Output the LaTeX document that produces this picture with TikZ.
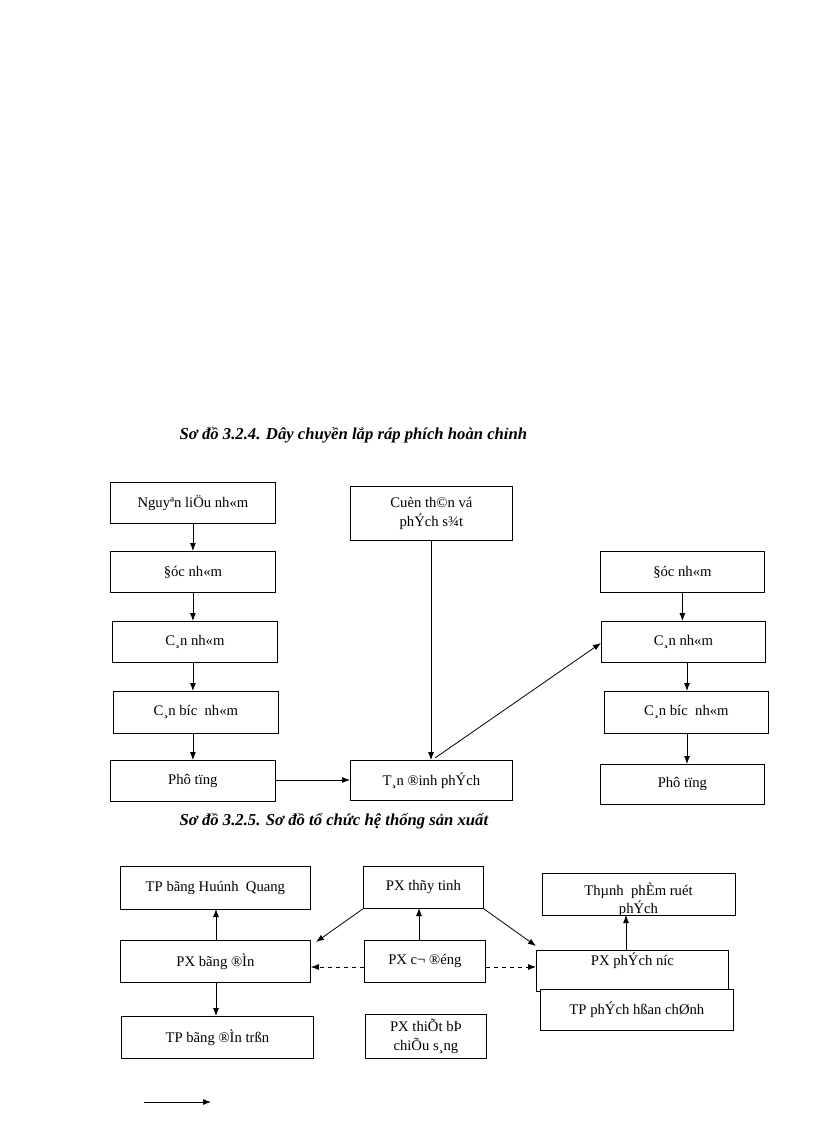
\documentclass[tikz,border=0pt]{standalone}
\usepackage{fontspec}
\setmainfont{Liberation Serif}
\usetikzlibrary{arrows.meta}
\begin{document}
\begin{tikzpicture}[x=0.75pt,y=-0.75pt,
  bx/.style={draw,fill=white,line width=0.6pt,inner sep=0pt,align=center,font=\fontsize{11}{14}\selectfont},
  ar/.style={-{Latex[length=6pt,width=4.5pt]},line width=0.6pt},
  ttl/.style={font=\fontsize{12.5}{15}\selectfont\bfseries\itshape}]
\useasboundingbox (0,0) rectangle (816,1123);
\newcommand{\bxn}[6]{\node[bx,minimum width=#4*0.75pt,minimum height=#5*0.75pt,anchor=north west] (#1) at (#2,#3) {#6};}
\node[ttl,anchor=west] (t1) at (175,435) {Sơ đồ 3.2.4. Dây chuyền lắp ráp phích hoàn chỉnh};
\bxn{a1}{110}{482}{165}{41}{Nguyªn liÖu nh«m}
\bxn{a2}{110}{551}{165}{41}{§óc nh«m}
\bxn{a3}{112}{621}{165}{41}{C¸n nh«m}
\bxn{a4}{113}{691}{165}{42}{C¸n bíc\ \ nh«m}
\bxn{a5}{110}{760}{165}{41}{Phô tïng}
\bxn{b1}{350}{486}{162}{54}{Cuèn th©n vá\\phÝch s¾t}
\bxn{b2}{350}{760}{162}{40}{T¸n ®inh phÝch}
\bxn{c1}{600}{551}{164}{41}{§óc nh«m}
\bxn{c2}{601}{621}{164}{41}{C¸n nh«m}
\bxn{c3}{604}{691}{164}{42}{C¸n bíc\ \ nh«m}
\bxn{c4}{600}{764}{164}{40}{Phô tïng}
\draw[ar] (a1.south) -- (a2.north);
\draw[ar] (a2.south) -- (a3.north -| a2.south);
\draw[ar] (a3.south -| a2.south) -- (a4.north -| a2.south);
\draw[ar] (a4.south -| a2.south) -- (a5.north -| a2.south);
\draw[ar] (a5.east |- 0,780) -- (b2.west |- 0,780);
\draw[ar] (431,540) -- (b2.north -| 431,0);
\draw[ar] (435,758) -- (c2.west |- 0,643);
\draw[ar] (c1.south) -- (c2.north -| c1.south);
\draw[ar] (687,662) -- (687,691);
\draw[ar] (687,733) -- (687,764);
\node[ttl,anchor=west] (t2) at (175,821) {Sơ đồ 3.2.5. Sơ đồ tổ chức hệ thống sản xuất};
\bxn{d1}{120}{866}{190}{43}{TP bãng Huúnh\ \ Quang}
\bxn{d2}{120}{940}{190}{42}{PX bãng ®Ìn}
\bxn{d3}{121}{1016}{192}{42}{TP bãng ®Ìn trßn}
\bxn{e1}{363}{866}{120}{42}{PX thñy tinh}
\bxn{e2}{364}{940}{121}{42}{PX c¬ ®éng}
\bxn{e3}{365}{1014}{121}{44}{PX thiÕt bÞ\\chiÕu s¸ng}
\draw[line width=0.6pt] (542,873) rectangle (735,915);
\begin{scope}
\clip (542,873) rectangle (735,915);
\node[font=\fontsize{11}{14}\selectfont,align=center,anchor=north] (f1) at (638.5,878) {Thµnh\ \ phÈm ruét\\phÝch};
\end{scope}
\bxn{f2}{536}{950}{192}{41}{PX phÝch níc\\[4pt]}
\bxn{f3}{540}{989}{193}{41}{TP phÝch hßan chØnh}
\draw[ar] (216,940) -- (216,909);
\draw[ar] (216,982) -- (216,1016);
\draw[ar] (e1.south west) -- (316,942);
\draw[ar] (419,940) -- (419,908);
\draw[ar] (e1.south east) -- (536,946);
\draw[ar] (626,950) -- (626,915);
\draw[ar,dashed] (e2.west |- 0,967) -- (d2.east |- 0,967);
\draw[ar,dashed] (e2.east |- 0,967) -- (f2.west |- 0,967);
\coordinate (l1) at (144,1102);
\coordinate (l2) at (211,1102);
\draw[ar] (l1) -- (l2);
\end{tikzpicture}
\end{document}
